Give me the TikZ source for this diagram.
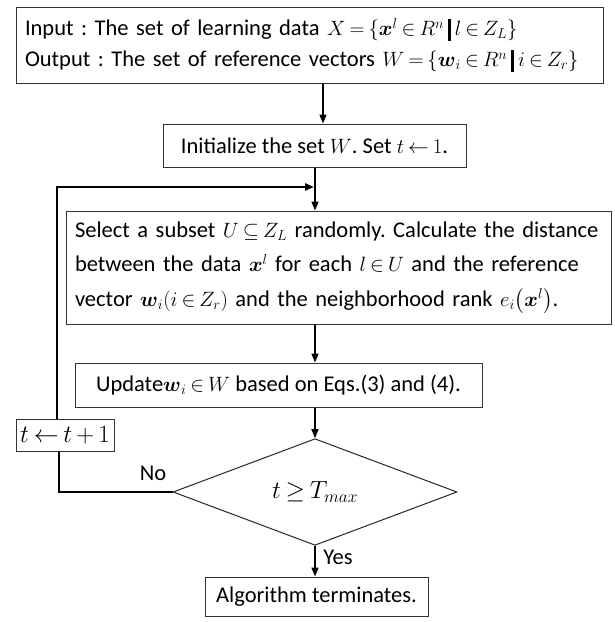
\documentclass[tikz,border=0pt]{standalone}
\usepackage{amsmath}
\usepackage[no-math]{fontspec}
\setmainfont{Carlito}
\usetikzlibrary{arrows.meta,shapes.geometric,calc}
\frenchspacing
\hyphenpenalty=10000
\thickmuskip=3.5mu plus 2mu
\medmuskip=3mu plus 2mu minus 3mu
\DeclareMathSizes{22.5}{20}{14}{10}
\newcommand\sepbar{\mathrel{\rule[-0.22em]{0.12em}{0.98em}}}
\tikzset{
  box/.style={draw=black!80, line width=1pt, inner xsep=9pt, inner ysep=0pt,
    font=\fontsize{22.5}{31}\selectfont},
  flow/.style={line width=1.6pt, -{Triangle[length=9pt,width=7pt]}},
  loopline/.style={line width=2.6pt},
  lbl/.style={font=\fontsize{22.5}{26}\selectfont, inner sep=0pt}
}
\begin{document}
\begin{tikzpicture}[x=1pt,y=-1pt]
\useasboundingbox (0,0) rectangle (614,622);

% process boxes
\node[box, text width=569pt, minimum height=76pt, align=left] (io) at (309.5,45)
  {Input : The set of learning data $X=\{\boldsymbol{x}^{l}\in R^{n}\sepbar l\in Z_{L}\}$\\
   Output : The set of reference vectors $W=\{\boldsymbol{w}_{i}\in R^{n}\sepbar i\in Z_{r}\}$};
\node[box, minimum width=303pt, minimum height=43pt] (init) at (314.5,145.5)
  {Initialize the set $W$. Set $t\leftarrow 1$.};
\node[box, text width=527pt, minimum height=113pt, align=left,
      font=\fontsize{22.5}{34.5}\selectfont] (sel) at (338.5,267.5)
  {Select a subset $U\subseteq Z_{L}$ randomly. Calculate the distance\\
   between the data $\boldsymbol{x}^{l}$ for each $l\in U$ and the reference\\
   vector $\boldsymbol{w}_{i}(i\in Z_{r})$ and the neighborhood rank $e_{i}\bigl(\boldsymbol{x}^{l}\bigr)$.};
\node[box, minimum width=407pt, minimum height=44pt] (upd) at (278.5,385)
  {Update$\boldsymbol{w}_{i}\in W$ based on Eqs.(3) and (4).};
\node[box, inner xsep=2pt, minimum width=98pt, minimum height=32pt,
      font=\fontsize{25}{28}\selectfont] (inc) at (65,435)
  {$t\leftarrow t+1$};
\node[draw=black!85, line width=1pt, diamond, minimum width=284pt, minimum height=98pt,
      inner sep=0pt, font=\fontsize{23}{27}\selectfont] (dec) at (315,492)
  {$t\geq T_{max}$};
\node[box, minimum width=223pt, minimum height=39pt] (end) at (316.5,596.5)
  {Algorithm terminates.};

% branch labels
\node[lbl] (no) at (153,473) {No};
\node[lbl] (yes) at (338,557) {Yes};

% guide coordinates
\coordinate (spA) at (323,0);
\coordinate (spB) at (315,0);
\coordinate (loopUp) at (57,0);
\coordinate (loopDown) at (59,0);
\coordinate (join) at (314,187);

% main flow
\draw[flow] (io.south -| spA) -- (init.north -| spA);
\draw[flow] (init.south -| spB) -- (sel.north -| spB);
\draw[flow] (sel.south -| spB) -- (upd.north -| spB);
\draw[flow] (upd.south -| spB) -- (dec.north);
\draw[flow] (dec.south) -- (end.north -| dec.south);

% loop back
\draw[loopline] (dec.west) -| (inc.south -| loopDown);
\draw[loopline, -{Triangle[length=9pt,width=7pt]}] (inc.north -| loopUp) |- (join);
\end{tikzpicture}
\end{document}
